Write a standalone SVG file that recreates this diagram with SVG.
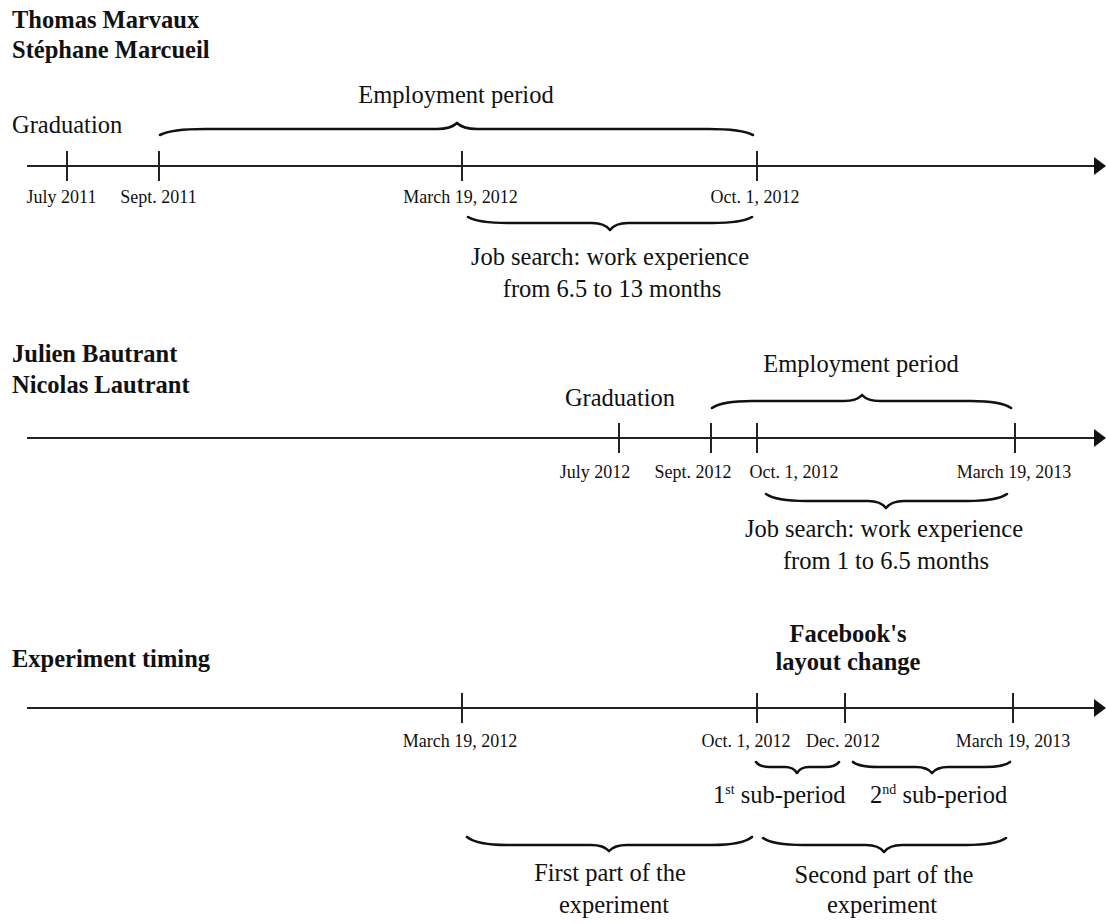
<svg xmlns="http://www.w3.org/2000/svg" width="1106" height="923" viewBox="0 0 1106 923">
<defs>
<style>
text{font-family:"Liberation Serif","Times New Roman",serif;fill:#111}
.t{font-size:24.5px}
.b{font-size:24.5px;font-weight:bold}
.d{font-size:18px}
.m{text-anchor:middle}
.axis{stroke:#222;stroke-width:2;fill:none}
.tick{stroke:#222;stroke-width:2}
.brace{stroke:#111;stroke-width:2.6;fill:none;stroke-linejoin:round;stroke-linecap:round}
</style>
<marker id="arr" markerUnits="userSpaceOnUse" viewBox="0 0 12 18" markerWidth="12" markerHeight="18" refX="3" refY="9" orient="auto">
<path d="M0,0 L12,9 L0,18 z" fill="#111"/>
</marker>
</defs>
<rect width="1106" height="923" fill="#fff"/>

<g id="timeline1">
<g id="t1-names"><text class="b" x="12" y="28">Thomas Marvaux</text><text class="b" x="12" y="58">Stéphane Marcueil</text></g>
<g id="t1-employment"><text class="t m" x="456" y="103">Employment period</text></g>
<g id="t1-graduation"><text class="t" x="12" y="133">Graduation</text></g>
<g id="t1-dates">
<text class="d m" x="61.5" y="203">July 2011</text>
<text class="d m" x="158.5" y="203">Sept. 2011</text>
<text class="d m" x="460.5" y="203">March 19, 2012</text>
<text class="d m" x="755" y="203">Oct. 1, 2012</text>
</g>
<g id="t1-jobsearch"><text class="t m" x="610" y="265">Job search: work experience</text><text class="t m" x="612" y="297">from 6.5 to 13 months</text></g>
</g>

<g id="timeline2">
<g id="t2-names"><text class="b" x="12" y="362">Julien Bautrant</text><text class="b" x="12" y="393">Nicolas Lautrant</text></g>
<g id="t2-employment"><text class="t m" x="861" y="372">Employment period</text></g>
<g id="t2-graduation"><text class="t m" x="620" y="406">Graduation</text></g>
<g id="t2-dates">
<text class="d m" x="595" y="478">July 2012</text>
<text class="d m" x="693" y="478">Sept. 2012</text>
<text class="d m" x="794" y="478">Oct. 1, 2012</text>
<text class="d m" x="1014" y="478">March 19, 2013</text>
</g>
<g id="t2-jobsearch"><text class="t m" x="884" y="537">Job search: work experience</text><text class="t m" x="886" y="569">from 1 to 6.5 months</text></g>
</g>

<g id="timeline3">
<g id="t3-title"><text class="b" x="12" y="667">Experiment timing</text></g>
<g id="t3-facebook"><text class="b m" x="848" y="642">Facebook's</text><text class="b m" x="848" y="670">layout change</text></g>
<g id="t3-dates">
<text class="d m" x="460" y="747">March 19, 2012</text>
<text class="d m" x="746" y="747">Oct. 1, 2012</text>
<text class="d m" x="843" y="747">Dec. 2012</text>
<text class="d m" x="1013" y="747">March 19, 2013</text>
</g>
<g id="t3-sub1"><text class="t" x="713" y="803">1<tspan font-size="14" dy="-9">st</tspan><tspan dy="9"> sub-period</tspan></text></g>
<g id="t3-sub2"><text class="t" x="870" y="803">2<tspan font-size="14" dy="-9">nd</tspan><tspan dy="9"> sub-period</tspan></text></g>
<g id="t3-first"><text class="t m" x="610" y="881">First part of the</text><text class="t m" x="614" y="913">experiment</text></g>
<g id="t3-second"><text class="t m" x="884" y="883">Second part of the</text><text class="t m" x="882" y="913">experiment</text></g>
</g>

<g id="connectors">
<path class="axis" d="M27,166 H1097" marker-end="url(#arr)"/>
<path class="axis" d="M27,438 H1097" marker-end="url(#arr)"/>
<path class="axis" d="M27,708 H1097" marker-end="url(#arr)"/>
<g class="tick">
<line x1="67" y1="151" x2="67" y2="181"/>
<line x1="159" y1="151" x2="159" y2="181"/>
<line x1="462" y1="151" x2="462" y2="181"/>
<line x1="757" y1="151" x2="757" y2="181"/>
<line x1="619" y1="423" x2="619" y2="453"/>
<line x1="711" y1="423" x2="711" y2="453"/>
<line x1="757" y1="423" x2="757" y2="453"/>
<line x1="1015" y1="423" x2="1015" y2="453"/>
<line x1="462" y1="693" x2="462" y2="723"/>
<line x1="757" y1="693" x2="757" y2="723"/>
<line x1="845" y1="693" x2="845" y2="723"/>
<line x1="1013" y1="693" x2="1013" y2="723"/>
</g>
<path class="brace" d="M160,135 Q171,129 205,129 L437,129 Q451,129 457,123 Q463,129 477,129 L708,129 Q742,129 753,135"/>
<path class="brace" d="M468,217 Q478,223 508,223 L592,223 Q604.6,223 610,230 Q615.4,223 628,223 L712,223 Q742,223 752,217"/>
<path class="brace" d="M712,408 Q722,401 752,401 L844,401 Q856.6,401 862,395 Q867.4,401 880,401 L971,401 Q1001,401 1011,408"/>
<path class="brace" d="M766,494 Q776,501 806,501 L868,501 Q880.6,501 886,508 Q891.4,501 904,501 L967,501 Q997,501 1007,494"/>
<path class="brace" d="M756,762 Q759.5,767 770,767 L785,767 Q793.4,767 797,773 Q800.6,767 809,767 L825,767 Q835.5,767 839,762"/>
<path class="brace" d="M853,762 Q859,767 878,767 L916,767 Q927,767 932,773 Q937,767 948,767 L985,767 Q1004,767 1010,762"/>
<path class="brace" d="M467,837 Q477,845 507,845 L591,845 Q603.6,845 609,851 Q614.4,845 627,845 L712,845 Q742,845 752,837"/>
<path class="brace" d="M763,838 Q773,845 803,845 L866,845 Q878.6,845 884,852 Q889.4,845 902,845 L966,845 Q996,845 1006,838"/>
</g>
</svg>
